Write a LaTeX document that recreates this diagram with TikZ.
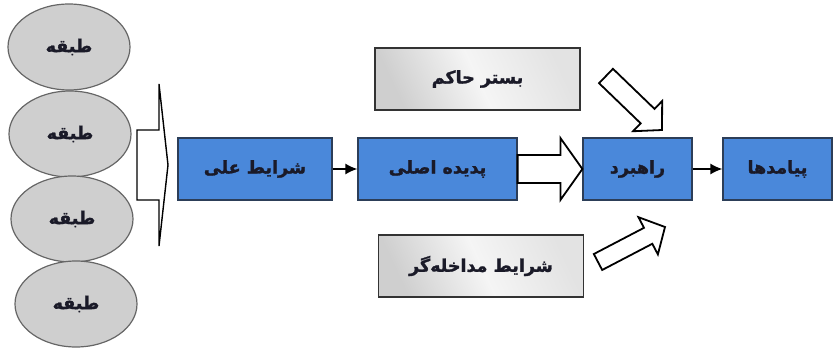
\documentclass[tikz,border=0pt]{standalone}
\usepackage{fontspec}
\newfontfamily\farsi[Script=Arabic,FakeBold=1.5]{DejaVu Sans}
\TeXXeTstate=1
\usetikzlibrary{arrows.meta,calc,shapes.geometric}

\definecolor{boxblue}{HTML}{4A88DA}
\definecolor{boxline}{HTML}{2C3E58}
\definecolor{layergray}{HTML}{CFCFCF}
\definecolor{layerline}{HTML}{666666}
\definecolor{ink}{HTML}{1A1A28}

\tikzset{
  fa/.style={font=\farsi\bfseries\fontsize{17.5}{20}\selectfont, text=ink},
  layer/.style={ellipse, draw=layerline, fill=layergray, line width=1.2pt,
    minimum width=122pt, minimum height=86pt, fa},
  bluebox/.style={draw=boxline, fill=boxblue, line width=1.2pt,
    minimum height=62pt, fa},
  marblebox/.style={draw=black!80, line width=1.2pt, minimum width=205pt,
    minimum height=62pt, left color=gray!38, right color=gray!22,
    middle color=gray!8, shading angle=115, fa},
  flow/.style={-{Latex[length=12pt,width=11pt]}, line width=1.6pt},
  hollow/.style={draw=black, fill=white, line width=1.8pt, line join=miter}
}

% tail, tip, shaft half width, head half width, head length
\newcommand\hollowarrow[6][]{%
  \coordinate (hb) at ($(#3)!#6!(#2)$);
  \draw[hollow,#1] ($(#2)!#4!90:(#3)$) -- ($(hb)!#4!-90:(#2)$)
    -- ($(hb)!#5!-90:(#2)$) -- (#3) -- ($(hb)!#5!90:(#2)$)
    -- ($(hb)!#4!90:(#2)$) -- ($(#2)!#4!-90:(#3)$) -- cycle;}

\begin{document}
\begin{tikzpicture}[x=1pt,y=-1pt]
  \useasboundingbox (0,0) rectangle (836,351);

  % layers
  \node[layer] (l1) at (69,47)  {\beginR طبقه\endR};
  \node[layer] (l2) at (70,134) {\beginR طبقه\endR};
  \node[layer] (l3) at (72,219) {\beginR طبقه\endR};
  \node[layer] (l4) at (76,304) {\beginR طبقه\endR};

  % main chain
  \node[bluebox, minimum width=154pt] (ali)     at (255,169)   {\beginR شرایط علی\endR};
  \node[bluebox, minimum width=159pt] (padide)  at (437.5,169) {\beginR پدیده اصلی\endR};
  \node[bluebox, minimum width=109pt] (rahbord) at (637.5,169) {\beginR راهبرد\endR};
  \node[bluebox, minimum width=109pt] (payamad) at (777.5,169) {\beginR پیامدها\endR};

  % context boxes
  \node[marblebox] (bastar)    at (477.5,79) {\beginR بستر حاکم\endR};
  \node[marblebox] (modakhele) at (481,266)  {\beginR شرایط مداخله‌گر\endR};

  \draw[flow] (ali) -- (padide);
  \draw[flow] (rahbord) -- (payamad);

  % block arrows
  \coordinate (ltail) at (137,165);
  \coordinate (ltip)  at (168,165);
  \hollowarrow[line width=1.4pt]{ltail}{ltip}{35pt}{81pt}{9pt}
  \hollowarrow{padide.east}{rahbord.west}{14pt}{31pt}{22pt}
  \coordinate (btail) at (606,76);
  \coordinate (btip)  at (662,130);
  \hollowarrow{btail}{btip}{10pt}{21pt}{20pt}
  \coordinate (mtail) at (598,262);
  \coordinate (mtip)  at (665,227);
  \hollowarrow{mtail}{mtip}{9pt}{21pt}{19pt}
\end{tikzpicture}
\end{document}
